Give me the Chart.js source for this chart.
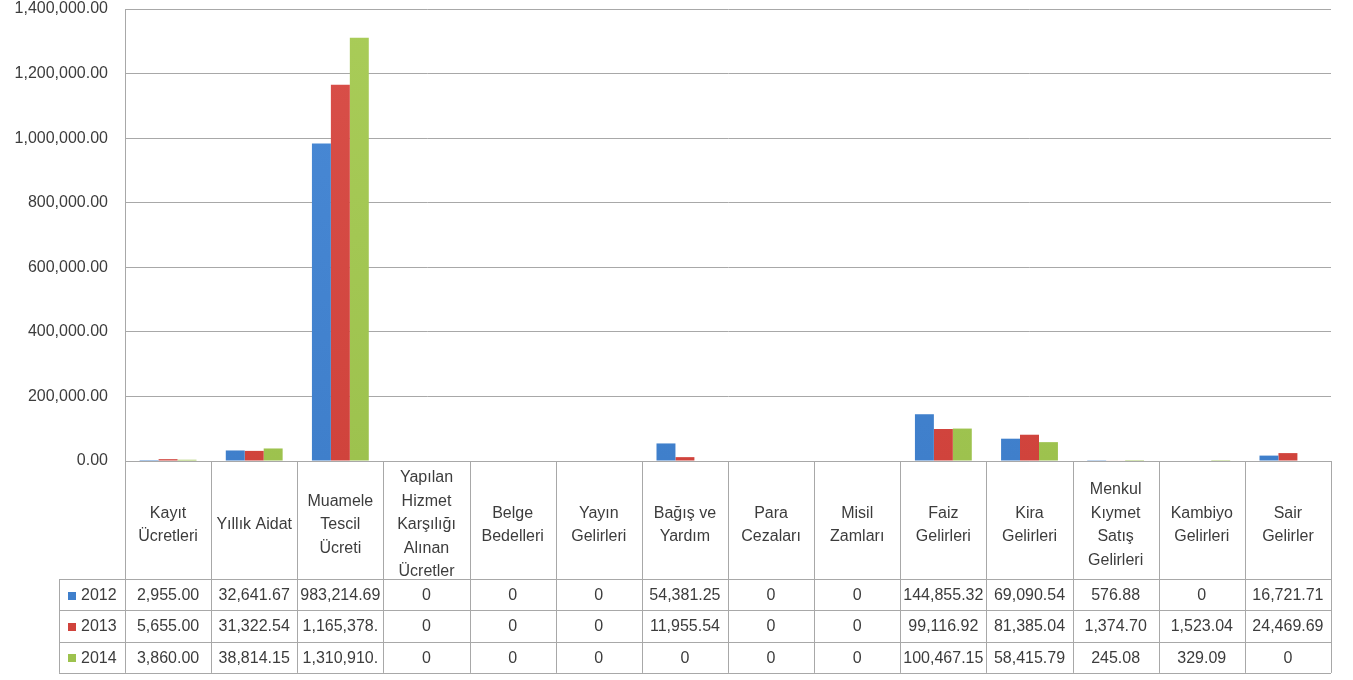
<!DOCTYPE html>
<html lang="tr">
<head>
<meta charset="UTF-8" />
<title>Gelirler 2012-2014</title>
<script src="https://cdn.jsdelivr.net/npm/chart.js"></script>
<style>
  html, body { margin: 0; padding: 0; background: #fff; }
  #wrap { width: 1353px; height: 680px; }
</style>
</head>
<body>
<div id="wrap"><canvas id="gelirChart" width="1353" height="680"></canvas></div>
<script>
// kategori basliklari (satir satir)
const categories = [
  ['Kayıt', 'Ücretleri'], ['Yıllık Aidat'], ['Muamele', 'Tescil', 'Ücreti'],
  ['Yapılan', 'Hizmet', 'Karşılığı', 'Alınan', 'Ücretler'], ['Belge', 'Bedelleri'],
  ['Yayın', 'Gelirleri'], ['Bağış ve', 'Yardım'], ['Para', 'Cezaları'], ['Misil', 'Zamları'],
  ['Faiz', 'Gelirleri'], ['Kira', 'Gelirleri'], ['Menkul', 'Kıymet', 'Satış', 'Gelirleri'],
  ['Kambiyo', 'Gelirleri'], ['Sair', 'Gelirler']
];
const years = ['2012', '2013', '2014'];
const values2012 = [2955.00, 32641.67, 983214.69, 0, 0, 0, 54381.25, 0, 0, 144855.32, 69090.54, 576.88, 0, 16721.71];
const values2013 = [5655.00, 31322.54, 1165378.00, 0, 0, 0, 11955.54, 0, 0, 99116.92, 81385.04, 1374.70, 1523.04, 24469.69];
const values2014 = [3860.00, 38814.15, 1310910.00, 0, 0, 0, 0, 0, 0, 100467.15, 58415.79, 245.08, 329.09, 0];
const yTicks = [0, 200000, 400000, 600000, 800000, 1000000, 1200000, 1400000];

const colors = ['#3f7fcb', '#d0433c', '#9dc24e'];
const colorsTop = ['#4a8ad6', '#d9504a', '#a9cc58'];
const FONT = '"Liberation Sans", Arial, sans-serif';
const TEXT = '#3c3c3c';
const LINE = '#a8a8a8';

function fmt(v) {
  if (v === 0) return '0';
  return v.toLocaleString('en-US', { minimumFractionDigits: 2, maximumFractionDigits: 2 });
}

function barFill(i) {
  return function(c) {
    const area = c.chart.chartArea;
    if (!area) return colors[i];
    const g = c.chart.ctx.createLinearGradient(0, area.top, 0, area.bottom);
    g.addColorStop(0, colorsTop[i]);
    g.addColorStop(1, colors[i]);
    return g;
  };
}

// tablo: grafik altina veri tablosu
const dataTable = {
  id: 'dataTable',
  afterDraw(chart) {
    const ctx = chart.ctx;
    const a = chart.chartArea;
    const n = categories.length;
    const colW = (a.right - a.left) / n;
    const headTop = a.bottom;
    const headBot = headTop + 118;
    const rowH = 31.3;
    const legLeft = 59;
    const series = [values2012, values2013, values2014];
    ctx.save();
    ctx.strokeStyle = LINE;
    ctx.lineWidth = 1;
    // yatay cizgiler
    ctx.beginPath();
    ctx.moveTo(a.left, headTop + 0.5); ctx.lineTo(a.right, headTop + 0.5);
    for (let r = 0; r <= 3; r++) {
      const y = Math.round(headBot + r * rowH) + 0.5;
      ctx.moveTo(legLeft, y); ctx.lineTo(a.right, y);
    }
    // dikey cizgiler
    for (let i = 0; i <= n; i++) {
      const x = Math.round(a.left + i * colW) + 0.5;
      ctx.moveTo(x, headTop); ctx.lineTo(x, headBot + 3 * rowH);
    }
    ctx.moveTo(legLeft + 0.5, headBot); ctx.lineTo(legLeft + 0.5, headBot + 3 * rowH);
    ctx.stroke();

    ctx.fillStyle = TEXT;
    ctx.font = '16px ' + FONT;
    ctx.textAlign = 'center';
    ctx.textBaseline = 'middle';
    const lh = 23.5;
    const mid = headTop + 64;
    categories.forEach((lines, i) => {
      const cx = a.left + (i + 0.5) * colW;
      const y0 = mid - (lines.length - 1) * lh / 2;
      lines.forEach((t, k) => ctx.fillText(t, cx, y0 + k * lh));
    });

    series.forEach((vals, r) => {
      const cy = headBot + (r + 0.5) * rowH + 1;
      ctx.fillStyle = colors[r];
      ctx.fillRect(68, Math.round(cy - 4), 8, 8);
      ctx.fillStyle = TEXT;
      ctx.textAlign = 'left';
      ctx.fillText(years[r], 81, cy);
      ctx.textAlign = 'center';
      vals.forEach((v, i) => {
        let s = fmt(v);
        while (ctx.measureText(s).width > colW - 4) s = s.slice(0, -1);
        ctx.fillText(s, a.left + (i + 0.5) * colW, cy);
      });
    });
    ctx.restore();
  }
};

new Chart(document.getElementById('gelirChart'), {
  type: 'bar',
  data: {
    labels: categories,
    datasets: [
      { label: years[0], data: values2012, backgroundColor: barFill(0) },
      { label: years[1], data: values2013, backgroundColor: barFill(1) },
      { label: years[2], data: values2014, backgroundColor: barFill(2) }
    ]
  },
  options: {
    responsive: false,
    animation: false,
    layout: { padding: { top: 9, right: 22, bottom: 219, left: 0 } },
    datasets: { bar: { categoryPercentage: 0.66, barPercentage: 1.0 } },
    scales: {
      x: { display: false },
      y: {
        min: 0, max: 1400000,
        afterFit(scale) { scale.width = 125; scale.paddingTop = 0; scale.paddingBottom = 0; },
        afterBuildTicks(scale) { scale.ticks = yTicks.map(v => ({ value: v })); },
        grid: { color: LINE, drawTicks: false },
        border: { color: LINE },
        ticks: {
          padding: 17,
          color: TEXT,
          font: { family: FONT, size: 16 },
          callback: v => v.toLocaleString('en-US', { minimumFractionDigits: 2, maximumFractionDigits: 2 })
        }
      }
    },
    plugins: { legend: { display: false }, tooltip: { enabled: false } }
  },
  plugins: [dataTable]
});
</script>
</body>
</html>
